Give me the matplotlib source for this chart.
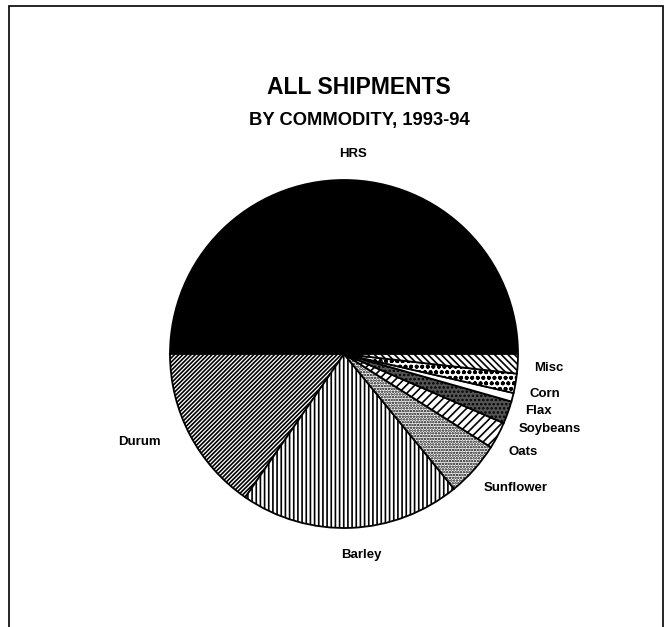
import matplotlib.pyplot as plt
from matplotlib.patches import Rectangle

# shares of all shipments by commodity, 1993-94 (percent)
commodities = ['HRS', 'Durum', 'Barley', 'Sunflower', 'Oats',
               'Soybeans', 'Flax', 'Corn', 'Misc']
shares = [50.0, 15.4, 20.5, 5.1, 2.5, 2.1, 0.8, 1.8, 1.8]

# look of each wedge (scanned b/w print, so fills are hatches)
fills = ['black', 'white', 'white', 'white', 'white',
         '#555555', 'white', 'white', 'white']
hatches = ['', '////////', '||||', '......', '////',
           '....', '', 'ooo', '\\\\\\\\\\']

# label spots in pixels from top-left of the image
label_pos = {
    'HRS': (353, 154),
    'Durum': (139, 442),
    'Barley': (361, 555),
    'Sunflower': (516, 488),
    'Oats': (523, 452),
    'Soybeans': (550, 429),
    'Flax': (538, 411),
    'Corn': (545, 394),
    'Misc': (549, 368),
}

W, H = 670, 627

plt.rcParams['font.family'] = ['Liberation Sans', 'DejaVu Sans']
plt.rcParams['hatch.linewidth'] = 1.2

fig = plt.figure(figsize=(W / 100, H / 100), dpi=100)
ax = fig.add_axes([0, 0, 1, 1])

wedges, _ = ax.pie(shares, colors=fills, hatch=hatches, startangle=0,
                   counterclock=True, center=(344, H - 354), radius=174,
                   wedgeprops=dict(edgecolor='black', linewidth=1.3))

ax.set_xlim(0, W)
ax.set_ylim(0, H)
ax.set_aspect('equal')
ax.axis('off')

for name in commodities:
    x, y = label_pos[name]
    ax.text(x, H - y, name, ha='center', va='center',
            fontsize=9.5, fontweight='bold')

ax.text(359, H - 88, 'ALL SHIPMENTS', ha='center', va='center',
        fontsize=16.5, fontweight='bold')
ax.text(359, H - 120, 'BY COMMODITY, 1993-94', ha='center', va='center',
        fontsize=13.2, fontweight='bold')

# page frame (bottom edge runs off the image)
ax.add_patch(Rectangle((9, -20), 654, H - 6 + 20, fill=False,
                       edgecolor='black', linewidth=1.2))

fig.savefig('out.png', dpi=100)
plt.close(fig)
